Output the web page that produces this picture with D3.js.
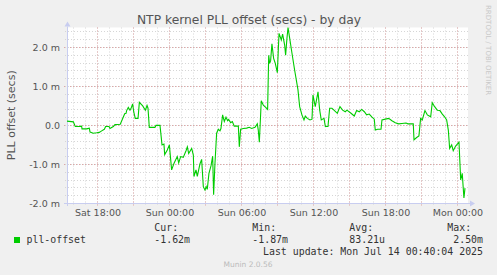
<!DOCTYPE html>
<html>
<head>
<meta charset="utf-8">
<script src="https://cdn.jsdelivr.net/npm/d3@7"></script>
<style>
  body { margin: 0; background: #f0f0f0; }
  svg text { font-family: "DejaVu Sans", sans-serif; }
  svg text.mono { font-family: "DejaVu Sans Mono", monospace; white-space: pre; }
</style>
</head>
<body>
<div id="chart"></div>
<script>
// hours since Sat 12 Jul 2025 00:00
var hours = [
  15.5, 16.03, 16.19, 16.53, 16.72, 16.75, 17.14, 17.36, 17.42, 17.69,
  17.97, 18.19, 18.39, 18.61, 18.72, 19.0, 19.08, 19.36, 19.5, 19.94,
  20.31, 20.42, 20.47, 20.61, 20.75, 20.83, 20.97, 21.06, 21.19, 21.42,
  21.53, 21.81, 22.03, 22.17, 22.25, 22.36, 22.83, 22.92, 23.25, 23.42,
  23.58, 23.64, 23.86, 24.03, 24.22, 24.42, 24.69, 24.81, 24.97, 25.19,
  25.42, 25.53, 25.64, 25.89, 26.03, 26.08, 26.25, 26.36, 26.58, 26.72,
  26.86, 27.0, 27.1, 27.19, 27.33, 27.5, 27.64, 27.72, 27.83, 27.97,
  28.11, 28.25, 28.33, 28.47, 28.61, 28.75, 28.89, 28.97, 29.14, 29.28,
  29.44, 29.78, 29.86, 29.97, 30.19, 30.47, 30.69, 30.89, 31.17, 31.36,
  31.44, 31.53, 31.69, 31.86, 32.06, 32.22, 32.31, 32.39, 32.47, 32.58,
  32.72, 32.86, 33.03, 33.17, 33.36, 33.47, 33.64, 33.72, 33.83, 33.92,
  34.06, 34.25, 34.47, 34.75, 34.89, 35.08, 35.25, 35.36, 35.53, 35.75,
  35.92, 36.0, 36.19, 36.42, 36.56, 36.69, 36.92, 37.03, 37.25, 37.39,
  37.58, 37.75, 38.03, 38.25, 38.47, 38.69, 38.83, 39.17, 39.44, 39.64,
  39.86, 40.06, 40.28, 40.47, 40.69, 40.92, 41.11, 41.19, 41.39, 41.67,
  41.75, 42.03, 42.31, 42.58, 42.86, 43.14, 43.42, 43.75, 43.92, 44.36,
  44.42, 44.64, 44.83, 44.97, 45.11, 45.33, 45.53, 45.81, 45.94, 46.14,
  46.36, 46.58, 46.78, 46.97, 47.14, 47.28, 47.39, 47.56, 47.69, 47.89,
  48.17, 48.31, 48.44, 48.58, 48.67
];

// pll-offset in milliseconds
var offsets = [
  0.10, 0.08, -0.04, -0.04, -0.03, -0.10, -0.10, -0.08, -0.18, -0.21,
  -0.20, -0.19, -0.15, -0.11, -0.04, -0.04, -0.09, -0.04, 0.01, 0.02,
  0.29, 0.30, 0.37, 0.45, 0.38, 0.42, 0.54, 0.34, 0.17, 0.17,
  0.58, 0.49, 0.38, 0.50, 0.43, -0.06, -0.06, -0.01, -0.01, -0.51,
  -0.49, -0.76, -0.64, -0.51, -1.15, -0.98, -0.81, -0.97, -0.81, -0.83,
  -0.66, -0.56, -0.73, -0.60, -0.77, -1.32, -1.15, -1.32, -1.00, -0.88,
  -1.58, -1.67, -1.58, -1.65, -1.24, -1.05, -0.80, -1.79, -1.00, -0.21,
  -0.11, -0.15, -0.09, 0.26, 0.09, 0.20, 0.11, 0.14, 0.06, 0.09,
  -0.03, -0.03, -0.56, -0.11, -0.09, -0.08, -0.06, -0.09, -0.06, 0.03,
  -0.13, -0.44, 0.62, 0.51, 0.45, 0.40, 1.79, 1.58, 1.65, 2.08,
  1.71, 1.58, 1.34, 2.35, 2.18, 2.33, 2.05, 1.79, 2.22, 2.50,
  2.22, 1.84, 1.41, 0.90, 0.47, 0.26, 0.13, 0.23, 0.17, 0.13,
  0.15, 0.77, 0.47, 0.85, 0.38, 0.13, 0.17, -0.04, -0.04, 0.43,
  0.43, 0.38, 0.30, 0.47, 0.38, 0.34, 0.38, 0.30, 0.23, 0.37,
  0.34, 0.40, 0.34, 0.26, 0.28, 0.20, 0.15, -0.13, -0.11, -0.11,
  0.13, 0.15, 0.17, 0.11, 0.06, 0.03, 0.04, 0.05, 0.03, 0.03,
  -0.38, -0.32, -0.28, 0.17, 0.13, 0.37, 0.26, 0.21, 0.57, 0.47,
  0.38, 0.37, 0.28, 0.21, 0.13, -0.13, -0.60, -0.51, -0.66, -0.54,
  -0.44, -1.41, -1.24, -1.87, -1.62
];

var yTicks = [-2, -1, 0, 1, 2];
var yTickLabels = ["-2.0 m", "-1.0 m", "0.0", "1.0 m", "2.0 m"];
var xTickHours = [18, 24, 30, 36, 42, 48];

var legendHeads = ["Cur:", "Min:", "Avg:", "Max:"];
var legendValues = ["-1.62m", "-1.87m", "83.21u", " 2.50m"];

var W = 497, H = 275;
var plotLeft = 67, plotRight = 468, plotTop = 27.5, plotBottom = 203;
var base = new Date(2025, 6, 12, 0, 0, 0);
function toDate(h) { return new Date(base.getTime() + h * 3600 * 1000); }

var data = hours.map(function (h, i) { return { t: toDate(h), v: offsets[i] }; });

var svg = d3.select("#chart").append("svg")
  .attr("width", W)
  .attr("height", H);

svg.append("rect").attr("width", W).attr("height", H).attr("fill", "#f0f0f0");

var x = d3.scaleTime()
  .domain([toDate(15.5), toDate(48.92)])
  .range([plotLeft, plotRight]);

var y = d3.scaleLinear()
  .domain([-2, 2.5])
  .range([plotBottom, plotTop]);

// plot canvas
svg.append("rect")
  .attr("x", plotLeft).attr("y", plotTop)
  .attr("width", plotRight - plotLeft).attr("height", plotBottom - plotTop)
  .attr("fill", "#ffffff");

// minor grid
var minorY = d3.range(-2, 2.41, 0.2);
svg.append("g").selectAll("line").data(minorY).enter().append("line")
  .attr("x1", plotLeft - 2).attr("x2", plotRight)
  .attr("y1", function (d) { return Math.round(y(d)) + 0.5; })
  .attr("y2", function (d) { return Math.round(y(d)) + 0.5; })
  .attr("stroke", "#d6d6d6").attr("stroke-dasharray", "1,2");

var minorX = d3.timeHour.range(toDate(16), toDate(49));
svg.append("g").selectAll("line").data(minorX).enter().append("line")
  .attr("x1", function (d) { return Math.round(x(d)) + 0.5; })
  .attr("x2", function (d) { return Math.round(x(d)) + 0.5; })
  .attr("y1", plotTop).attr("y2", plotBottom + 2)
  .attr("stroke", "#d6d6d6").attr("stroke-dasharray", "1,2");

// major grid
svg.append("g").selectAll("line").data(yTicks).enter().append("line")
  .attr("x1", plotLeft - 3).attr("x2", plotRight)
  .attr("y1", function (d) { return Math.round(y(d)) + 0.5; })
  .attr("y2", function (d) { return Math.round(y(d)) + 0.5; })
  .attr("stroke", "#e0a6a6").attr("stroke-dasharray", "1,2");

var majorX = d3.timeHour.every(3).range(toDate(18), toDate(49));
svg.append("g").selectAll("line").data(majorX).enter().append("line")
  .attr("x1", function (d) { return Math.round(x(d)) + 0.5; })
  .attr("x2", function (d) { return Math.round(x(d)) + 0.5; })
  .attr("y1", plotTop).attr("y2", plotBottom + 3)
  .attr("stroke", "#e0a6a6").attr("stroke-dasharray", "1,2");

// axes
var axisColor = "#c8cdf0";
svg.append("line")
  .attr("x1", plotLeft - 3).attr("x2", plotRight + 2)
  .attr("y1", plotBottom + 0.5).attr("y2", plotBottom + 0.5)
  .attr("stroke", axisColor);
svg.append("line")
  .attr("x1", plotLeft + 0.5).attr("x2", plotLeft + 0.5)
  .attr("y1", plotBottom + 3).attr("y2", plotTop - 1)
  .attr("stroke", axisColor);
svg.append("path")
  .attr("d", "M" + (plotLeft - 2.5) + "," + (plotTop - 1) + "L" + (plotLeft + 3.5) + "," + (plotTop - 1) + "L" + (plotLeft + 0.5) + "," + (plotTop - 6) + "Z")
  .attr("fill", axisColor);
svg.append("path")
  .attr("d", "M" + (plotRight + 2) + "," + (plotBottom - 2.5) + "L" + (plotRight + 2) + "," + (plotBottom + 3.5) + "L" + (plotRight + 7) + "," + (plotBottom + 0.5) + "Z")
  .attr("fill", axisColor);

// tick labels
svg.append("g").selectAll("text").data(yTicks).enter().append("text")
  .attr("x", 60)
  .attr("y", function (d) { return y(d) + 3.5; })
  .attr("text-anchor", "end")
  .attr("font-size", "9.5px")
  .attr("fill", "#555")
  .text(function (d, i) { return yTickLabels[i]; });

var fmt = d3.timeFormat("%a %H:%M");
svg.append("g").selectAll("text").data(xTickHours).enter().append("text")
  .attr("x", function (d) { return x(toDate(d)) + 1; })
  .attr("y", 216)
  .attr("text-anchor", "middle")
  .attr("font-size", "9.5px")
  .attr("fill", "#555")
  .text(function (d) { return fmt(toDate(d)); });

// series
var line = d3.line()
  .x(function (d) { return x(d.t); })
  .y(function (d) { return y(d.v); });

svg.append("path")
  .datum(data)
  .attr("d", line)
  .attr("fill", "none")
  .attr("stroke", "#00cc00")
  .attr("stroke-width", 1.1);

// title and labels
svg.append("text")
  .attr("x", 249).attr("y", 24)
  .attr("text-anchor", "middle")
  .attr("font-size", "12.3px")
  .attr("fill", "#555")
  .text("NTP kernel PLL offset (secs) - by day");

svg.append("text")
  .attr("transform", "translate(15," + ((plotTop + plotBottom) / 2) + ") rotate(-90)")
  .attr("text-anchor", "middle")
  .attr("font-size", "11px")
  .attr("fill", "#555")
  .text("PLL offset (secs)");

svg.append("text")
  .attr("transform", "translate(486,5) rotate(90)")
  .attr("font-size", "7px")
  .attr("fill", "#c8c8c8")
  .text("RRDTOOL / TOBI OETIKER");

// legend
svg.append("rect")
  .attr("x", 14).attr("y", 237)
  .attr("width", 6).attr("height", 6)
  .attr("fill", "#00cc00");

svg.append("text").attr("class", "mono")
  .attr("x", 26.5).attr("y", 243)
  .attr("font-size", "9.9px").attr("fill", "#333")
  .text("pll-offset");

var colX = [154.3, 252.3, 349.3, 447.3];
svg.append("g").selectAll("text").data(legendHeads).enter().append("text")
  .attr("class", "mono")
  .attr("x", function (d, i) { return colX[i]; })
  .attr("y", 231)
  .attr("font-size", "9.9px").attr("fill", "#333")
  .text(function (d) { return d; });

svg.append("g").selectAll("text").data(legendValues).enter().append("text")
  .attr("class", "mono")
  .attr("x", function (d, i) { return colX[i]; })
  .attr("y", 243)
  .attr("font-size", "9.9px").attr("fill", "#333")
  .text(function (d) { return d; });

svg.append("text").attr("class", "mono")
  .attr("x", 483).attr("y", 255)
  .attr("text-anchor", "end")
  .attr("font-size", "9.9px").attr("fill", "#333")
  .text("Last update: Mon Jul 14 00:40:04 2025");

svg.append("text")
  .attr("x", 248).attr("y", 266.5)
  .attr("text-anchor", "middle")
  .attr("font-size", "7.5px")
  .attr("fill", "#bbbbbb")
  .text("Munin 2.0.56");
</script>
</body>
</html>
